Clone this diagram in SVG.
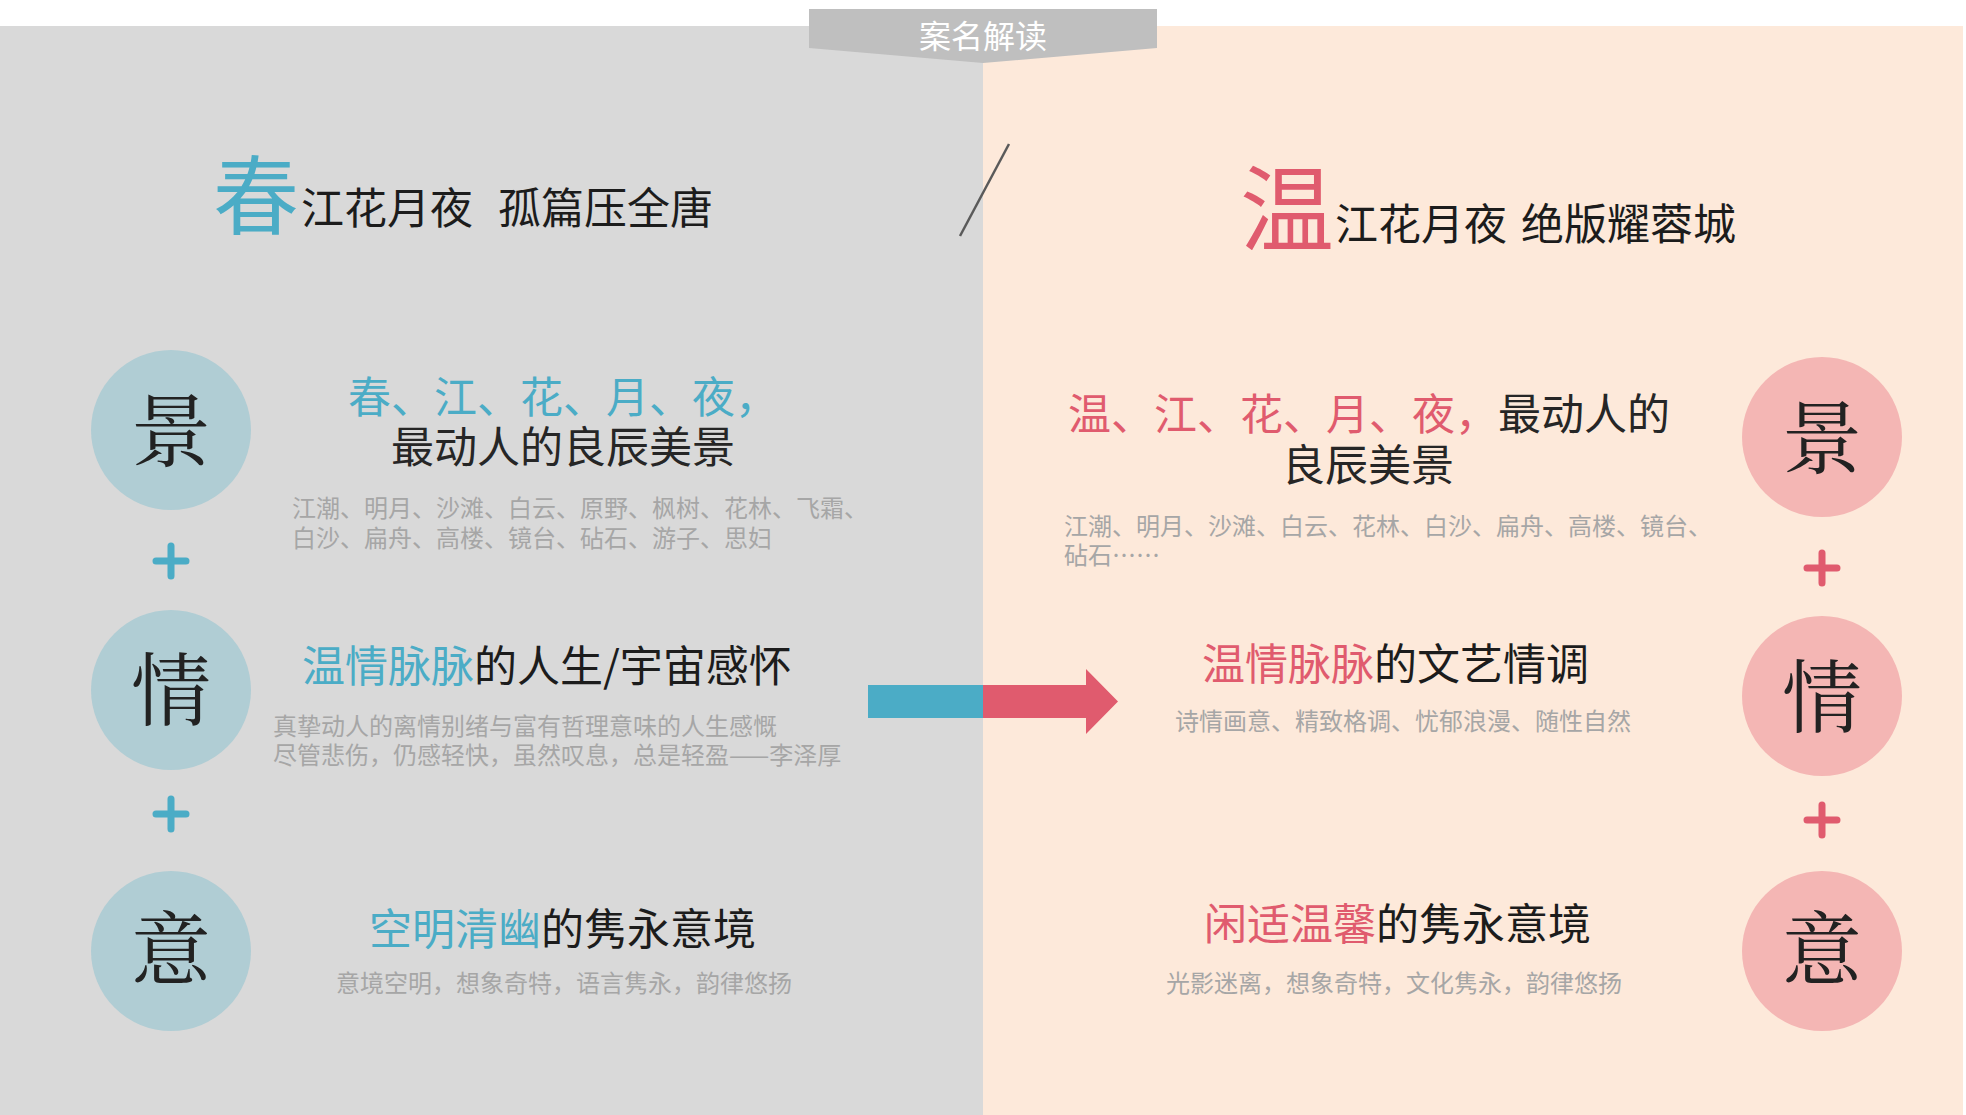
<svg xmlns="http://www.w3.org/2000/svg" width="1966" height="1115" viewBox="0 0 1966 1115">
<style>
text{font-family:"Noto Sans CJK SC","Noto Sans",sans-serif;}
.big{font-size:43px;fill:#1c1c1c;}
.gray{font-size:24px;fill:#a6a6a6;}
.blue{fill:#4bacc6;}
.red{fill:#e05b6e;}
.circL{fill:#b0cdd4;}
.circR{fill:#f4b6b4;}
.ch{font-family:"Noto Serif CJK SC","Noto Sans CJK SC",serif;font-size:80px;fill:#222;text-anchor:middle;}
.plusL{stroke:#4bacc6;stroke-width:7;stroke-linecap:round;fill:none;}
.plusR{stroke:#e05b6e;stroke-width:7;stroke-linecap:round;fill:none;}
</style>
<rect x="0" y="0" width="1966" height="1115" fill="#ffffff"/>
<rect x="0" y="26" width="983" height="1089" fill="#d9d9d9"/>
<rect x="983" y="26" width="980" height="1089" fill="#fde9da"/>

<g id="header">
<polygon points="809,9 1157,9 1157,48 983,63 809,48" fill="#bfbfbf"/>
<text x="983" y="48" font-size="32" fill="#ffffff" text-anchor="middle">案名解读</text>
</g>

<g id="divider">
<line x1="1009" y1="144" x2="960" y2="236" stroke="#5a5a5a" stroke-width="2.5"/>
</g>

<g id="title-left">
<text x="213" y="228" font-size="86" class="blue">春</text>
<text class="big" y="224"><tspan x="301">江花月夜</tspan><tspan x="498">孤篇压全唐</tspan></text>
</g>

<g id="title-right">
<text x="1240" y="244" font-size="94" class="red">温</text>
<text class="big" y="240"><tspan x="1335">江花月夜</tspan><tspan x="1521">绝版耀蓉城</tspan></text>
</g>

<g id="node-jing-left">
<circle cx="171" cy="430" r="80" class="circL"/>
<text class="ch" x="171" y="460">景</text>
</g>
<g id="node-qing-left">
<circle cx="171" cy="690" r="80" class="circL"/>
<text class="ch" x="171" y="719">情</text>
</g>
<g id="node-yi-left">
<circle cx="171" cy="951" r="80" class="circL"/>
<text class="ch" x="171" y="978">意</text>
</g>
<g id="node-jing-right">
<circle cx="1822" cy="437" r="80" class="circR"/>
<text class="ch" x="1822" y="467">景</text>
</g>
<g id="node-qing-right">
<circle cx="1822" cy="696" r="80" class="circR"/>
<text class="ch" x="1822" y="726">情</text>
</g>
<g id="node-yi-right">
<circle cx="1822" cy="951" r="80" class="circR"/>
<text class="ch" x="1822" y="978">意</text>
</g>

<g id="connectors">
<path class="plusL" d="M156,561 H186 M171,546 V576"/>
<path class="plusL" d="M156,814 H186 M171,799 V829"/>
<path class="plusR" d="M1807,568 H1837 M1822,553 V583"/>
<path class="plusR" d="M1807,820 H1837 M1822,805 V835"/>
<rect x="868" y="685" width="115" height="33" fill="#4bacc6"/>
<polygon points="983,685 1086,685 1086,669 1118,701.5 1086,734 1086,718 983,718" fill="#e05b6e"/>
</g>

<g id="text-jing-left">
<text class="big" x="563" y="413" text-anchor="middle"><tspan class="blue">春、江、花、月、夜，</tspan></text>
<text class="big" x="563" y="463" text-anchor="middle" style="fill:#262626">最动人的良辰美景</text>
<text class="gray" x="292" y="517">江潮、明月、沙滩、白云、原野、枫树、花林、飞霜、</text>
<text class="gray" x="292" y="547">白沙、扁舟、高楼、镜台、砧石、游子、思妇</text>
</g>

<g id="text-jing-right">
<text class="big" x="1068" y="430"><tspan class="red">温、江、花、月、夜，</tspan><tspan style="fill:#262626">最动人的</tspan></text>
<text class="big" x="1368" y="481" text-anchor="middle" style="fill:#262626">良辰美景</text>
<text class="gray" x="1064" y="535">江潮、明月、沙滩、白云、花林、白沙、扁舟、高楼、镜台、</text>
<text class="gray" x="1064" y="564">砧石……</text>
</g>

<g id="text-qing-left">
<text class="big" x="302" y="682"><tspan class="blue">温情脉脉</tspan>的人生/宇宙感怀</text>
<text class="gray" x="273" y="735">真挚动人的离情别绪与富有哲理意味的人生感慨</text>
<text class="gray" x="273" y="764">尽管悲伤，仍感轻快，虽然叹息，总是轻盈——李泽厚</text>
</g>

<g id="text-qing-right">
<text class="big" x="1202" y="680"><tspan class="red">温情脉脉</tspan>的文艺情调</text>
<text class="gray" x="1175" y="730">诗情画意、精致格调、忧郁浪漫、随性自然</text>
</g>

<g id="text-yi-left">
<text class="big" x="369" y="945"><tspan class="blue">空明清幽</tspan>的隽永意境</text>
<text class="gray" x="336" y="992">意境空明，想象奇特，语言隽永，韵律悠扬</text>
</g>

<g id="text-yi-right">
<text class="big" x="1204" y="940"><tspan class="red">闲适温馨</tspan>的隽永意境</text>
<text class="gray" x="1166" y="992">光影迷离，想象奇特，文化隽永，韵律悠扬</text>
</g>
</svg>
